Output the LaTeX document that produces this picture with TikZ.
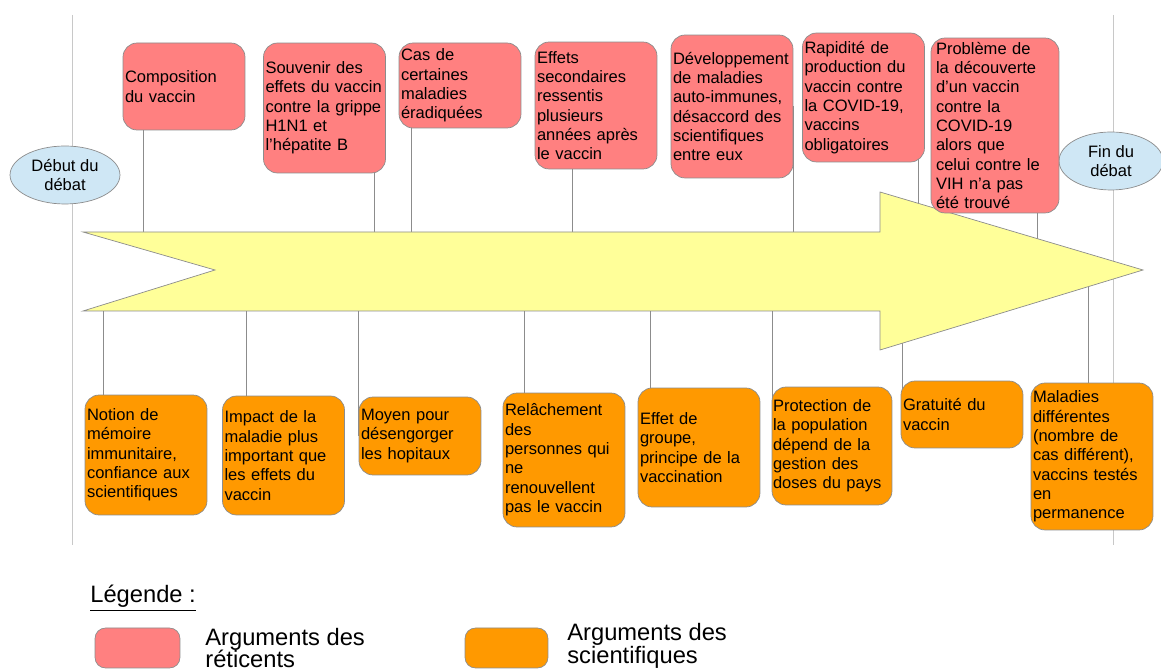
\documentclass[tikz,border=0pt]{standalone}
\usepackage{fontspec}
\setmainfont{Liberation Sans}
\usetikzlibrary{shapes.geometric,backgrounds}

\definecolor{reticentred}{HTML}{FF8080}
\definecolor{scientorange}{HTML}{FF9900}
\definecolor{arrowyellow}{HTML}{FFFF99}
\definecolor{bubbleblue}{HTML}{CFE7F5}
\definecolor{frameline}{HTML}{8C8C8C}
\definecolor{guideline}{HTML}{C8C8C8}

\newcommand\argfont{\fontsize{9.4}{11}\selectfont}
\newcommand\legendfont{\fontsize{13.5}{13}\selectfont}

\tikzset{
    argument/.style={rectangle, rounded corners=8pt, draw=frameline, inner sep=0pt, minimum width=2.44cm, text width=2.36cm, align=left, font=\argfont},
    reticent/.style={fill=reticentred, argument},
    scientist/.style={fill=scientorange, argument},
    bubble/.style={ellipse, draw=frameline, fill=bubbleblue, inner sep=0pt, minimum height=1.16cm, align=center, font=\argfont},
    stem/.style={draw=frameline, thin},
    guide/.style={draw=guideline, thin},
    timeline/.style={fill=arrowyellow, draw=frameline, thin},
    key/.style={rectangle, rounded corners=6pt, draw=frameline, minimum width=1.7cm, minimum height=0.8cm},
    keytext/.style={align=left, font=\legendfont, anchor=west, inner sep=0pt},
}

\begin{document}
\begin{tikzpicture}[x=0.02cm, y=-0.02cm]
    \useasboundingbox (0,0) rectangle (1161,671);
    % the big arrow
    \draw[timeline] (83,232) -- (880,232) -- (880,192) -- (1143,270) -- (880,350) -- (880,311) -- (83,311) -- (215,270) -- cycle;
    % start and end
    \node[bubble, minimum width=2.2cm] (debut) at (65,175) {Début du\\débat};
    \node[bubble, minimum width=2.08cm] (fin) at (1111,161) {Fin du\\débat};
    % arguments of the reticent
    \node[reticent, minimum height=1.74cm] (r1) at (184,86.5) {Composition\\du vaccin};
    \node[reticent, minimum height=2.6cm] (r2) at (324.5,108) {Souvenir des\\effets du vaccin\\contre la grippe\\H1N1 et\\l'hépatite B};
    \node[reticent, minimum height=1.7cm] (r3) at (460,85.5) {Cas de\\certaines\\maladies\\éradiquées};
    \node[reticent, minimum height=2.54cm] (r4) at (596,105.5) {Effets\\secondaires\\ressentis\\plusieurs\\années après\\le vaccin};
    \node[reticent, minimum height=2.86cm] (r5) at (732,106.5) {Développement\\de maladies\\auto-immunes,\\désaccord des\\scientifiques\\entre eux};
    \node[reticent, minimum height=2.58cm] (r6) at (863.5,97.5) {Rapidité de\\production du\\vaccin contre\\la COVID-19,\\vaccins\\obligatoires};
    \node[reticent, minimum height=3.5cm, minimum width=2.56cm] (r7) at (995,125.5) {Problème de\\la découverte\\d'un vaccin\\contre la\\COVID-19\\alors que\\celui contre le\\VIH n'a pas\\été trouvé};
    % arguments of the scientists
    \node[scientist, minimum height=2.4cm] (o1) at (146,455) {Notion de\\mémoire\\immunitaire,\\confiance aux\\scientifiques};
    \node[scientist, minimum height=2.38cm] (o2) at (283.5,455.5) {Impact de la\\maladie plus\\important que\\les effets du\\vaccin};
    \node[scientist, minimum height=1.56cm] (o3) at (420,436) {Moyen pour\\désengorger\\les hopitaux};
    \node[scientist, minimum height=2.68cm] (o4) at (564,460) {Relâchement\\des\\personnes qui\\ne\\renouvellent\\pas le vaccin};
    \node[scientist, minimum height=2.38cm] (o5) at (699,447.5) {Effet de\\groupe,\\principe de la\\vaccination};
    \node[scientist, minimum height=2.36cm, minimum width=2.4cm] (o6) at (832,446) {Protection de\\la population\\dépend de la\\gestion des\\doses du pays};
    \node[scientist, minimum height=1.34cm] (o7) at (962,414.5) {Gratuité du\\vaccin};
    \node[scientist, minimum height=2.94cm] (o8) at (1092,456.5) {Maladies\\différentes\\(nombre de\\cas différent),\\vaccins testés\\en\\permanence};
    % feet of the stems, on the edge of the arrow
    \foreach \n/\x/\y in {t1/143/232, t2/374/232, t3/411/232, t4/572/232, t5/793/232, t6/918/203, t7/1037/239}
        \coordinate (\n) at (\x,\y);
    \foreach \n/\x/\y in {b1/103/311, b2/246/311, b3/358/311, b4/524/311, b5/650/311, b6/772/311, b7/902/343, b8/1088/287}
        \coordinate (\n) at (\x,\y);
    \begin{scope}[on background layer]
        \draw[guide] (72,15) -- (72,545);
        \draw[guide] (1113,15) -- (1113,545);
        \foreach \n in {1,...,7}
            \draw[stem] (t\n |- r\n.center) -- (t\n);
        \foreach \n in {1,...,8}
            \draw[stem] (b\n |- o\n.center) -- (b\n);
    \end{scope}
    % legend
    \node[keytext] (legend) at (90,598) {\underline{Légende :}};
    \node[key, fill=reticentred] (keyret) at (137.5,648) {};
    \node[keytext] (keyrettext) at (205,648) {Arguments des\\réticents};
    \node[key, fill=scientorange, minimum width=1.66cm] (keysci) at (506.5,648) {};
    \node[keytext] (keyscitext) at (567,646) {Arguments des\\scientifiques};
\end{tikzpicture}
\end{document}
